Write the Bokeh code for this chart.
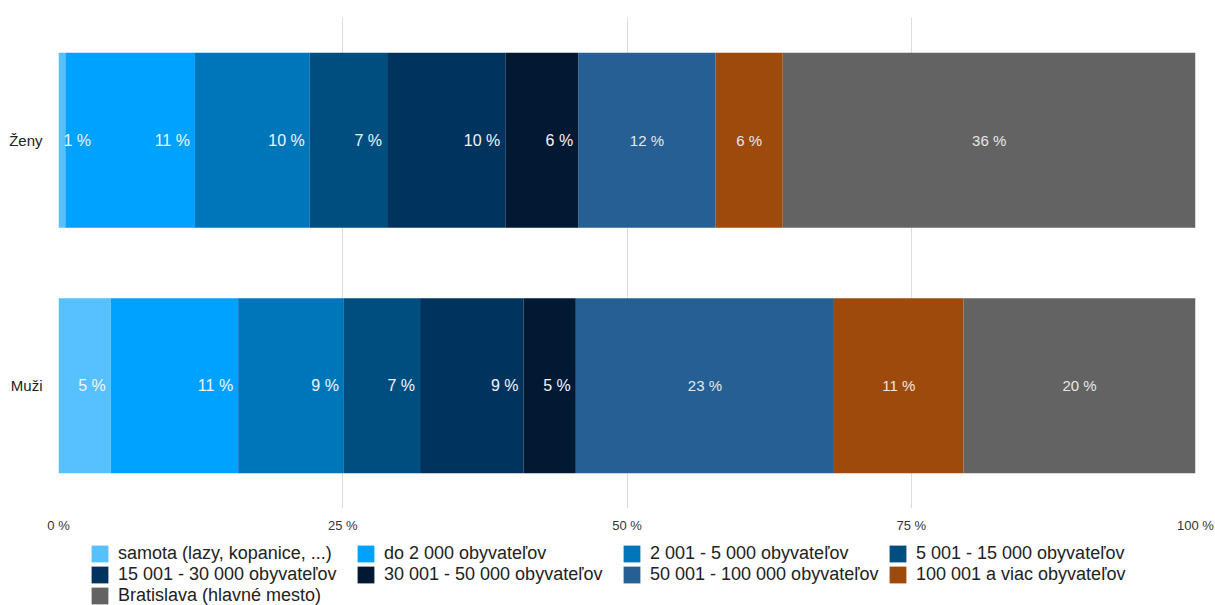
import numpy as np
from bokeh.plotting import figure
from bokeh.layouts import column
from bokeh.models import ColumnDataSource, FactorRange, Legend, LegendItem, FixedTicker, Range1d
from bokeh.core.properties import value
from bokeh.embed import file_html
from bokeh.resources import INLINE

# ---------------- data ----------------
categories = ["Muži", "Ženy"]  # bottom to top
series = [
    "samota (lazy, kopanice, ...)",
    "do 2 000 obyvateľov",
    "2 001 - 5 000 obyvateľov",
    "5 001 - 15 000 obyvateľov",
    "15 001 - 30 000 obyvateľov",
    "30 001 - 50 000 obyvateľov",
    "50 001 - 100 000 obyvateľov",
    "100 001 a viac obyvateľov",
    "Bratislava (hlavné mesto)",
]
muzi = [4.6, 11.2, 9.3, 6.7, 9.1, 4.6, 22.7, 11.4, 20.4]
zeny = [0.6, 11.4, 10.1, 6.8, 10.4, 6.4, 12.1, 5.9, 36.3]
colors = ["#56C1FF", "#00A2FF", "#0076BA", "#004D80", "#01335F",
          "#021933", "#265F93", "#9E4A0C", "#636363"]
x_ticks = [0, 25, 50, 75, 100]
x_tick_labels = ["0 %", "25 %", "50 %", "75 %", "100 %"]

FONT = value("Liberation Sans")
W = 1215
BL, BR = 58, 20

p = figure(
    width=W, height=537,
    y_range=FactorRange(factors=categories, range_padding=0),
    x_range=Range1d(0, 100),
    output_backend="svg", toolbar_location=None,
    min_border_left=BL, min_border_right=BR, min_border_top=17, min_border_bottom=29,
)
p.outline_line_color = None
p.background_fill_color = "white"
p.border_fill_color = "white"

values = np.array([muzi, zeny])  # shape (2, 9)
ends = np.cumsum(values, axis=1)
starts = ends - values

sources = []
rx, ry, rt = [], [], []
lx, ly, lt = [], [], []
cx, cy, ct = [], [], []
for i, name in enumerate(series):
    src = ColumnDataSource(dict(y=categories, left=starts[:, i], right=ends[:, i]))
    sources.append(src)
    p.hbar(y="y", left="left", right="right", height=0.713, source=src,
           fill_color=colors[i], line_color=None)
    for j, cat in enumerate(categories):
        v = values[j, i]
        txt = f"{int(v + 0.5)} %"
        if i >= 6:
            cx.append((starts[j, i] + ends[j, i]) / 2); cy.append(cat); ct.append(txt)
        elif v < 2:
            lx.append(starts[j, i]); ly.append(cat); lt.append(txt)
        else:
            rx.append(ends[j, i]); ry.append(cat); rt.append(txt)

common = dict(y="y", text="t", text_baseline="middle", text_font=FONT)
p.text(x="x", source=ColumnDataSource(dict(x=rx, y=ry, t=rt)), text_align="right",
       x_offset=-5, text_color="#F2F6FA", text_font_size="16px", **common)
p.text(x="x", source=ColumnDataSource(dict(x=lx, y=ly, t=lt)), text_align="left",
       x_offset=5, text_color="#F2F6FA", text_font_size="16px", **common)
p.text(x="x", source=ColumnDataSource(dict(x=cx, y=cy, t=ct)), text_align="center",
       text_color="#E8E8E8", text_font_size="15px", **common)

# axes
p.xaxis.ticker = FixedTicker(ticks=x_ticks)
p.xaxis.major_label_overrides = {t: l for t, l in zip(x_ticks, x_tick_labels)}
p.xaxis.axis_line_color = None
p.xaxis.major_tick_line_color = None
p.xaxis.minor_tick_line_color = None
p.xaxis.major_label_standoff = 3
p.xaxis.major_label_text_font = "Liberation Sans"
p.xaxis.major_label_text_font_size = "13px"
p.xaxis.major_label_text_color = "#333333"

p.yaxis.axis_line_color = None
p.yaxis.major_tick_line_color = None
p.yaxis.minor_tick_line_color = None
p.yaxis.major_label_standoff = 10
p.yaxis.major_label_text_font = "Liberation Sans"
p.yaxis.major_label_text_font_size = "15px"
p.yaxis.major_label_text_color = "#222222"

p.xgrid.grid_line_color = "#DCDCDC"
p.ygrid.grid_line_color = None

# ---------------- legend (strip below the chart) ----------------
# same series sources with zero-height bars outside the visible x range,
# so only the legend entries show
pl = figure(
    width=W, height=80, x_range=Range1d(200, 300),
    y_range=FactorRange(factors=categories),
    output_backend="svg", toolbar_location=None,
    x_axis_type=None, y_axis_type=None,
    min_border_left=BL, min_border_right=BR, min_border_top=0, min_border_bottom=0,
)
pl.outline_line_color = None
pl.xgrid.visible = False
pl.ygrid.visible = False
leg_renderers = []
for i, name in enumerate(series):
    r = pl.hbar(y="y", left="left", right="right", height=0, source=sources[i],
                fill_color=colors[i], line_color=None)
    leg_renderers.append(r)

legend = Legend(
    items=[LegendItem(label=s, renderers=[r]) for s, r in zip(series, leg_renderers)],
    orientation="horizontal", ncols=4, location=(31, 11),
    label_text_font="Liberation Sans", label_text_font_size="18px",
    label_text_line_height=1.0,
    label_text_color="#222222",
    glyph_width=21, glyph_height=21, label_height=17, label_width=237,
    label_standoff=8, spacing=0, padding=0, margin=0,
    background_fill_alpha=0, border_line_color=None,
)
pl.add_layout(legend)

layout = column(p, pl, spacing=0)
open("out.html", "w").write(file_html(layout, INLINE))
